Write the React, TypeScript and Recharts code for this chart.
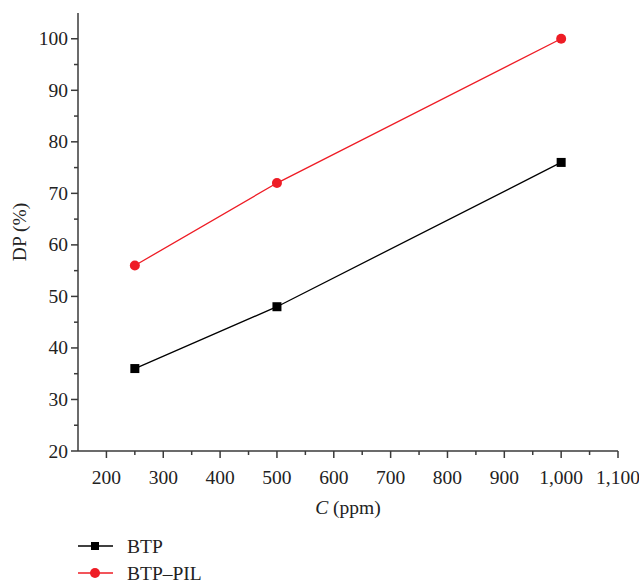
import React from 'react';
import {
  LineChart,
  Line,
  XAxis,
  YAxis,
  Legend } from
'recharts';

const concentrations = [250, 500, 1000];
const btpValues = [36, 48, 76];
const btpPilValues = [56, 72, 100];

const xMajorTicks = [200, 300, 400, 500, 600, 700, 800, 900, 1000, 1100];
const xMinorTicks = [250, 350, 450, 550, 650, 750, 850, 950, 1050];
const yMajorTicks = [20, 30, 40, 50, 60, 70, 80, 90, 100];
const yMinorTicks = [25, 35, 45, 55, 65, 75, 85, 95];

const data = concentrations.map((c, i) => ({
  c,
  btp: btpValues[i],
  btpPil: btpPilValues[i]
}));

const FONT = '"Liberation Serif", "DejaVu Serif", serif';
const FS = 19.5;
const AXIS = '#3a3a3a';
const RED = '#ee1c25';

const XTick = (props: any) => {
  const { x, y, payload } = props;
  const major = xMajorTicks.includes(payload.value);
  return (
    <g>
      <line x1={x} x2={x} y1={y} y2={y + (major ? 7 : 4)} stroke={AXIS} strokeWidth={1.5} />
      {major &&
      <text x={x} y={y + 33} textAnchor="middle" fontFamily={FONT} fontSize={FS} fill="#222">
          {payload.value.toLocaleString('en-US')}
        </text>
      }
    </g>);

};

const YTick = (props: any) => {
  const { x, y, payload } = props;
  const major = yMajorTicks.includes(payload.value);
  return (
    <g>
      <line x1={x - (major ? 7 : 4)} x2={x} y1={y} y2={y} stroke={AXIS} strokeWidth={1.5} />
      {major &&
      <text x={x - 10} y={y + 6.5} textAnchor="end" fontFamily={FONT} fontSize={FS} fill="#222">
          {payload.value}
        </text>
      }
    </g>);

};

const SquareDot = (props: any) => {
  const { cx, cy } = props;
  if (cx == null || cy == null) return null;
  return <rect x={cx - 4.5} y={cy - 4.5} width={9} height={9} fill="#000" />;
};

const CircleDot = (props: any) => {
  const { cx, cy } = props;
  if (cx == null || cy == null) return null;
  return <circle cx={cx} cy={cy} r={5} fill={RED} />;
};

const renderLegend = () =>
<svg width={300} height={54} style={{ display: 'block' }}>
    <line x1={78} x2={113} y1={16} y2={16} stroke="#000" strokeWidth={1.3} />
    <rect x={91} y={12} width={8} height={8} fill="#000" />
    <text x={127} y={23} fontFamily={FONT} fontSize={FS} fill="#222">BTP</text>
    <line x1={78} x2={113} y1={43} y2={43} stroke={RED} strokeWidth={1.3} />
    <circle cx={95} cy={43} r={5} fill={RED} />
    <text x={127} y={50} fontFamily={FONT} fontSize={FS} fill="#222">BTP–PIL</text>
  </svg>;


const YLabel = (props: any) => {
  const { viewBox } = props;
  const cy = viewBox.y + viewBox.height / 2;
  return (
    <text
      x={26}
      y={cy}
      transform={`rotate(-90, 26, ${cy})`}
      textAnchor="middle"
      fontFamily={FONT}
      fontSize={FS}
      fill="#222">
      DP (%)
    </text>);

};

const XLabel = (props: any) => {
  const { viewBox } = props;
  const cx = viewBox.x + viewBox.width / 2;
  return (
    <text x={cx} y={514} textAnchor="middle" fontFamily={FONT} fontSize={FS} fill="#222">
      <tspan fontStyle="italic">C</tspan> (ppm)
    </text>);

};

export default function App() {
  return (
    <div style={{ position: 'absolute', left: 0, top: 0, width: 639, height: 584, background: '#fff' }}>
      <LineChart
        width={639}
        height={584}
        data={data}
        margin={{ top: 13, right: 21, left: 0, bottom: 0 }}>

        <XAxis
          dataKey="c"
          type="number"
          domain={[150, 1100]}
          ticks={[...xMajorTicks, ...xMinorTicks].sort((a, b) => a - b)}
          interval={0}
          allowDataOverflow
          height={79}
          tickSize={0}
          tickMargin={0}
          tickLine={false}
          tick={<XTick />}
          axisLine={{ stroke: AXIS, strokeWidth: 1.5 }}
          label={<XLabel />} />

        <XAxis
          xAxisId="top"
          orientation="top"
          dataKey="c"
          type="number"
          domain={[150, 1100]}
          height={0}
          tick={false}
          tickLine={false}
          axisLine={{ stroke: AXIS, strokeWidth: 1.5 }} />

        <YAxis
          type="number"
          domain={[20, 105]}
          ticks={[...yMajorTicks, ...yMinorTicks].sort((a, b) => a - b)}
          interval={0}
          allowDataOverflow
          width={78}
          tickSize={0}
          tickMargin={0}
          tickLine={false}
          tick={<YTick />}
          axisLine={{ stroke: AXIS, strokeWidth: 1.5 }}
          label={<YLabel />} />

        <YAxis
          yAxisId="right"
          orientation="right"
          type="number"
          domain={[20, 105]}
          width={0}
          tick={false}
          tickLine={false}
          axisLine={{ stroke: AXIS, strokeWidth: 1.5 }} />

        <Legend verticalAlign="bottom" align="left" height={54} content={renderLegend} />

        <Line
          dataKey="btp"
          name="BTP"
          stroke="#000"
          strokeWidth={1.3}
          dot={<SquareDot />}
          activeDot={false}
          isAnimationActive={false} />

        <Line
          dataKey="btpPil"
          name="BTP–PIL"
          stroke={RED}
          strokeWidth={1.3}
          dot={<CircleDot />}
          activeDot={false}
          isAnimationActive={false} />

      </LineChart>
    </div>);

}
